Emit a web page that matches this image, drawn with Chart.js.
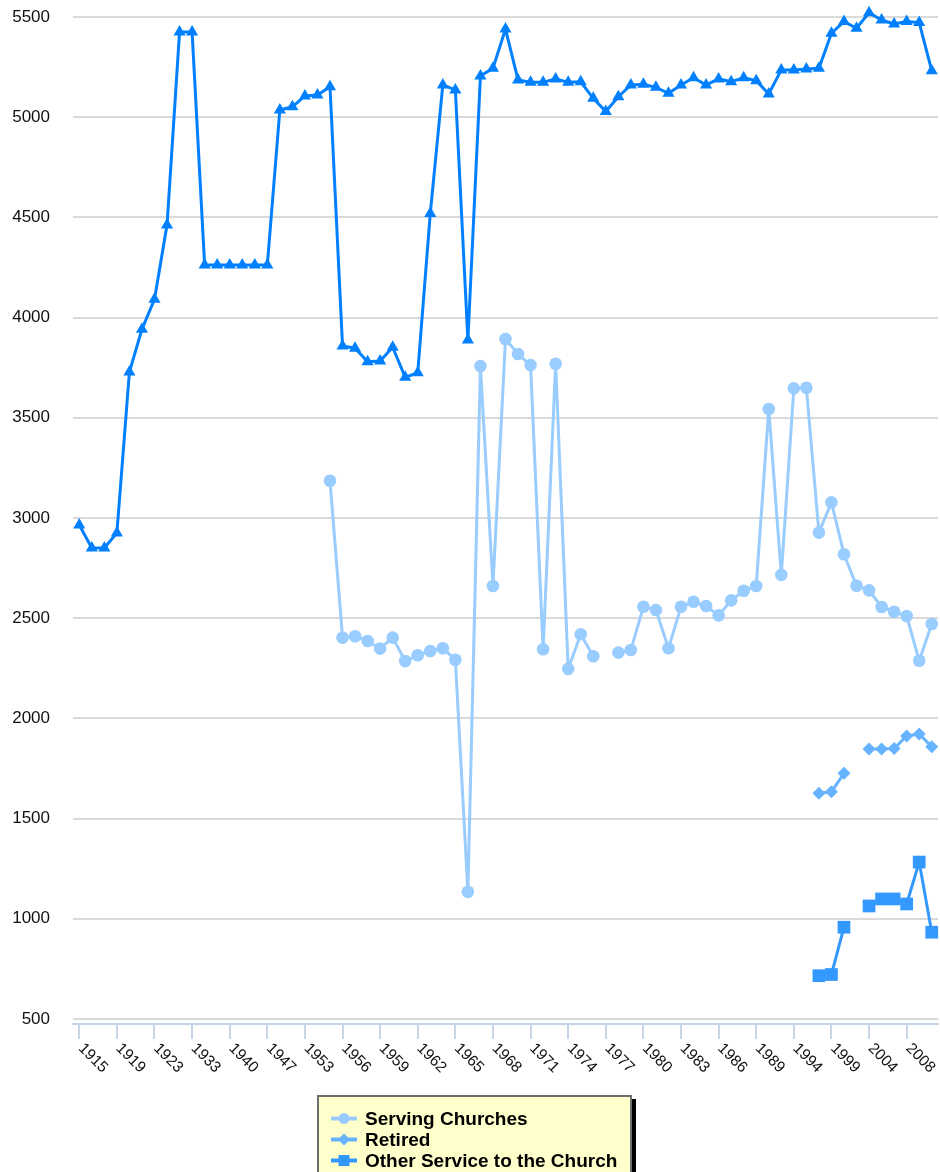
<!DOCTYPE html>
<html>
<head>
<meta charset="utf-8">
<script src="https://cdn.jsdelivr.net/npm/chart.js@4/dist/chart.umd.min.js"></script>
<style>
html,body{margin:0;padding:0;background:#fff;overflow:hidden;width:940px;height:1172px;}
#wrap{position:relative;width:940px;height:1172px;overflow:hidden;}
#c{position:absolute;left:0;top:0;}
#legend{position:absolute;left:317px;top:1095px;width:315px;box-sizing:border-box;background:#ffffcc;border:2px solid #6e6e6e;box-shadow:4px 4px 0 #000;padding:11px 0 10px 12px;font:bold 19px "Liberation Sans",Arial,sans-serif;color:#000;}
.item{display:flex;align-items:center;height:21px;white-space:nowrap;}
.item canvas{margin-right:8px;display:block;}
</style>
</head>
<body>
<div id="wrap">
<canvas id="c" width="940" height="1172" style="width:940px;height:1172px"></canvas>
<div id="legend"></div>
</div>
<script>
const categories = ['1915','1917','1918','1919','1920','1921','1923','1926','1930','1933','1935','1938','1940','1942','1945','1947','1949','1951','1953','1954','1955','1956','1957','1958','1959','1960','1961','1962','1963','1964','1965','1966','1967','1968','1969','1970','1971','1972','1973','1974','1975','1976','1977','1978','1979','1980','1981','1982','1983','1984','1985','1986','1987','1988','1989','1990','1992','1994','1996','1997','1999','2000','2002','2004','2005','2006','2008','2009','2010'];

const xTickLabels = ['1915','1919','1923','1933','1940','1947','1953','1956','1959','1962','1965','1968','1971','1974','1977','1980','1983','1986','1989','1994','1999','2004','2008'];

const yTickValues = [500,1000,1500,2000,2500,3000,3500,4000,4500,5000,5500];

const servingChurches = [null,null,null,null,null,null,null,null,null,null,null,null,null,null,null,null,null,null,null,null,
  3186,2403,2410,2386,2348,2403,2286,2315,2336,2350,2293,1135,3758,2661,3893,3818,3763,2345,3770,2247,2420,2310,null,
  2328,2341,2557,2541,2350,2557,2582,2561,2514,2589,2637,2661,3544,2716,3647,3650,2927,3078,2819,2662,2639,2556,2532,2511,2288,2471];

const retired = [null,null,null,null,null,null,null,null,null,null,null,null,null,null,null,null,null,null,null,null,
  null,null,null,null,null,null,null,null,null,null,null,null,null,null,null,null,null,null,null,null,
  null,null,null,null,null,null,null,null,null,null,null,null,null,null,null,null,null,null,null,
  1626,1634,1726,null,1847,1847,1850,1912,1922,1859];

const otherService = [null,null,null,null,null,null,null,null,null,null,null,null,null,null,null,null,null,null,null,null,
  null,null,null,null,null,null,null,null,null,null,null,null,null,null,null,null,null,null,null,null,
  null,null,null,null,null,null,null,null,null,null,null,null,null,null,null,null,null,null,null,
  716,722,958,null,1064,1099,1099,1074,1283,933];

const total = [2965,2850,2850,2925,3729,3942,4091,4462,5425,5425,4262,4262,4262,4262,4262,4262,5036,5052,5106,5111,
  5152,3858,3847,3780,3783,3852,3702,3725,4520,5161,5136,3888,5206,5244,5440,5186,5174,5174,5191,5174,5177,5094,5028,
  5102,5161,5164,5149,5119,5161,5197,5161,5191,5177,5197,5182,5116,5236,5236,5241,5244,5419,5477,5444,5521,5485,5465,5477,5472,5232];

const FONT = '"Liberation Sans", Arial, Helvetica, sans-serif';

const slantLabels = {
  id: 'slantLabels',
  afterDraw(chart) {
    const xs = chart.scales.x;
    const ctx = chart.ctx;
    ctx.save();
    ctx.font = '15.5px ' + FONT;
    ctx.fillStyle = '#111';
    ctx.textAlign = 'left';
    ctx.textBaseline = 'middle';
    xs.ticks.forEach(t => {
      const px = xs.getPixelForValue(t.value);
      ctx.save();
      ctx.translate(px + 1.5, xs.top + 22);
      ctx.rotate(Math.PI / 4);
      ctx.fillText(categories[t.value], 0, 0);
      ctx.restore();
    });
    ctx.restore();
  }
};

const chart = new Chart(document.getElementById('c'), {
  type: 'line',
  data: {
    labels: categories,
    datasets: [
      {label:'Serving Churches', data: servingChurches, borderColor:'#99ccff', backgroundColor:'#99ccff', pointBackgroundColor:'#99ccff', pointStyle:'circle', pointRadius:6.3, legendR:5.5},
      {label:'Retired', data: retired, borderColor:'#66b3ff', backgroundColor:'#66b3ff', pointBackgroundColor:'#66b3ff', pointStyle:'rectRot', pointRadius:6.5, legendR:6},
      {label:'Other Service to the Church', data: otherService, borderColor:'#3399ff', backgroundColor:'#3399ff', pointBackgroundColor:'#3399ff', pointStyle:'rect', pointRadius:9, legendR:5.5},
      {label:'Total', data: total, borderColor:'#0080ff', backgroundColor:'#0080ff', pointBackgroundColor:'#0080ff', pointStyle:'triangle', pointRadius:7, legendR:6}
    ]
  },
  options: {
    responsive: false,
    animation: false,
    devicePixelRatio: 1,
    layout: {autoPadding: false, padding: {top: 17, right: 2, left: 0, bottom: 0}},
    plugins: {legend: {display: false}, tooltip: {enabled: false}},
    elements: {
      line: {tension: 0, borderWidth: 3, fill: false},
      point: {borderWidth: 0, hoverRadius: 6}
    },
    datasets: {line: {clip: false, spanGaps: false}},
    scales: {
      x: {
        type: 'category',
        offset: true,
        border: {display: true, color: '#c5d5e6', width: 2},
        grid: {drawOnChartArea: false, drawTicks: true, tickLength: 15, color: '#c5d5e6', lineWidth: 2, offset: false},
        ticks: {display: false, autoSkip: false},
        afterBuildTicks: s => { s.ticks = s.ticks.filter(t => xTickLabels.includes(categories[t.value])); },
        afterFit: s => { s.height = 148; }
      },
      y: {
        min: 475, max: 5500,
        border: {display: false},
        grid: {color: '#dadada', lineWidth: 2, drawTicks: true, tickLength: 23, tickColor: 'rgba(0,0,0,0)'},
        ticks: {padding: 0, color: '#111', font: {size: 17, family: FONT}, callback: v => String(v)},
        afterBuildTicks: s => { s.ticks = yTickValues.map(v => ({value: v})); },
        afterFit: s => { s.width = 73; }
      }
    }
  },
  plugins: [slantLabels]
});

// HTML legend built from the chart's datasets
const legendEl = document.getElementById('legend');
chart.data.datasets.forEach(ds => {
  const row = document.createElement('div');
  row.className = 'item';
  const cv = document.createElement('canvas');
  cv.width = 26; cv.height = 21;
  const c = cv.getContext('2d');
  c.strokeStyle = ds.borderColor;
  c.lineWidth = 4;
  c.beginPath(); c.moveTo(0, 10.5); c.lineTo(26, 10.5); c.stroke();
  c.fillStyle = ds.pointBackgroundColor;
  const r = ds.legendR, cx = 13, cy = 10.5;
  c.beginPath();
  if (ds.pointStyle === 'circle') { c.arc(cx, cy, r, 0, Math.PI * 2); }
  else if (ds.pointStyle === 'rectRot') { c.moveTo(cx, cy - r); c.lineTo(cx + r, cy); c.lineTo(cx, cy + r); c.lineTo(cx - r, cy); c.closePath(); }
  else if (ds.pointStyle === 'rect') { c.rect(cx - r, cy - r, 2 * r, 2 * r); }
  else { c.moveTo(cx, cy - r); c.lineTo(cx + r, cy + r * 0.7); c.lineTo(cx - r, cy + r * 0.7); c.closePath(); }
  c.fill();
  const span = document.createElement('span');
  span.textContent = ds.label;
  row.appendChild(cv);
  row.appendChild(span);
  legendEl.appendChild(row);
});
</script>
</body>
</html>
